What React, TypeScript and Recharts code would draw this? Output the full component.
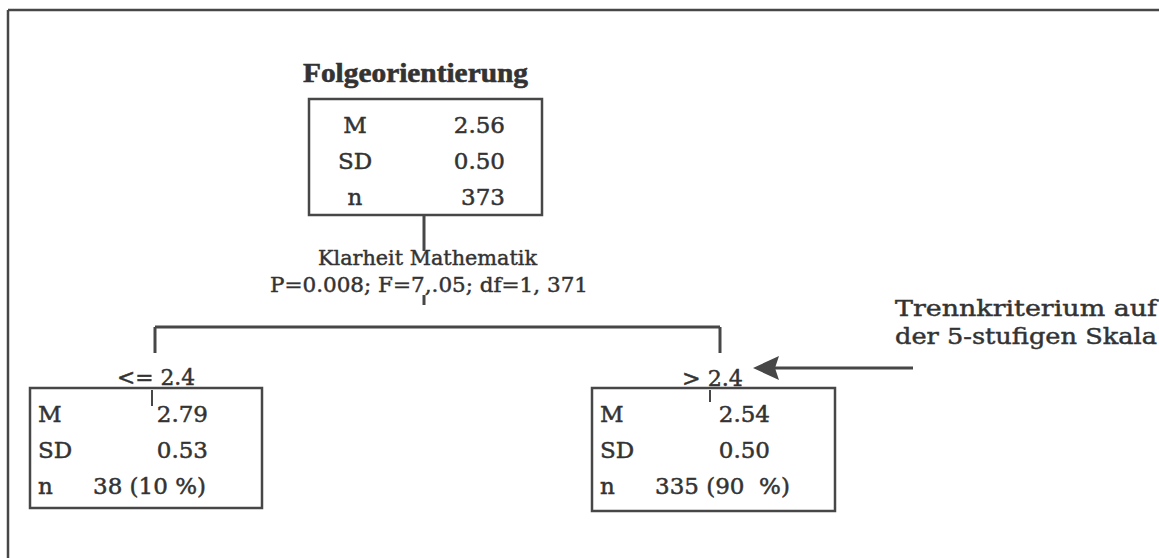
import { ScatterChart, Scatter, XAxis, YAxis, ReferenceLine } from "recharts";

const W = 1159;
const H = 558;

// tree content
const statNames = ["M", "SD", "n"];
const rootStats = ["2.56", "0.50", "373"];
const lowStats = ["2.79", "0.53", "38 (10 %)"];
const highStats = ["2.54", "0.50", "335 (90  %)"];
const targetName = "Folgeorientierung";
const splitName = "Klarheit Mathematik";
const splitTest = "P=0.008; F=7,.05; df=1, 371";
const splitRules = ["<= 2.4", "> 2.4"];
const noteLines = ["Trennkriterium auf", "der 5-stufigen Skala"];

const INK = "#333333";
const LINE = "#474747";
const BOX_FONT = "'DejaVu Serif', serif";

// layout in page pixels (domain is 1:1 with the plot)
const nodeLayout = [
  { kind: "root", x0: 309, y0: 99, x1: 542, y1: 215 },
  { kind: "leaf", x0: 30, y0: 388, x1: 262, y1: 508 },
  { kind: "leaf", x0: 592, y0: 388, x1: 835, y1: 511 },
];
const nodeStats = [rootStats, lowStats, highStats];

const nodes = nodeLayout.map((b, i) => ({
  x: (b.x0 + b.x1) / 2,
  y: (b.y0 + b.y1) / 2,
  w: b.x1 - b.x0,
  h: b.y1 - b.y0,
  kind: b.kind,
  stats: nodeStats[i],
}));

const labelTexts = [targetName, splitName, splitTest, splitRules[0], splitRules[1], noteLines[0], noteLines[1]];
const labelLayout = [
  { x: 303, y: 82, w: 225, size: 28, bold: true, font: "'Liberation Serif', serif" },
  { x: 318, y: 265, w: 219, size: 21, bold: false, font: BOX_FONT },
  { x: 270, y: 292, w: 318, size: 21, bold: false, font: BOX_FONT },
  { x: 117, y: 385, w: 78, size: 22, bold: false, font: BOX_FONT },
  { x: 682, y: 386, w: 61, size: 22, bold: false, font: BOX_FONT },
  { x: 895, y: 316, w: 262, size: 22, bold: false, font: BOX_FONT },
  { x: 895, y: 344, w: 262, size: 22, bold: false, font: BOX_FONT },
];
const labels = labelTexts.map((t, i) => ({ ...labelLayout[i], text: t }));

// connectors
const tree = { stemX: 424, barY: 327, branchX: [155, 720], childTop: 353 };
const arrowTip = { x: 753, y: 368 };
const arrowTail = 913;

const segments: { a: [number, number]; b: [number, number]; w?: number }[] = [
  { a: [tree.stemX, nodeLayout[0].y1], b: [tree.stemX, 251] },
  { a: [tree.stemX, 295], b: [tree.stemX, 305] },
  { a: [tree.branchX[0], tree.barY], b: [tree.branchX[1], tree.barY] },
  { a: [tree.branchX[0], tree.barY], b: [tree.branchX[0], tree.childTop] },
  { a: [tree.branchX[1], tree.barY], b: [tree.branchX[1], tree.childTop] },
  { a: [152, 390], b: [152, 406], w: 2 },
  { a: [710, 390], b: [710, 402], w: 2 },
  { a: [arrowTip.x + 22, arrowTip.y], b: [arrowTail, arrowTip.y], w: 3 },
  { a: [8, 10], b: [W, 10], w: 2.5 },
  { a: [8, 10], b: [8, H], w: 2.5 },
];

function NodeBox(props: any) {
  const { cx, cy, payload } = props;
  const left = cx - payload.w / 2;
  const top = cy - payload.h / 2;
  const root = payload.kind === "root";
  return (
    <g>
      <rect x={left} y={top} width={payload.w} height={payload.h} fill="none" stroke={LINE} strokeWidth={2.5} />
      {statNames.map((name, i) => {
        const by = top + 34 + i * 36;
        const val = payload.stats[i];
        let valueEl;
        if (root) {
          valueEl = (
            <text x={left + 196} y={by} textAnchor="end">
              {val}
            </text>
          );
        } else if (i < 2) {
          valueEl = (
            <text x={left + 178} y={by} textAnchor="end">
              {val}
            </text>
          );
        } else {
          valueEl = (
            <text x={left + 63} y={by} textAnchor="start" style={{ whiteSpace: "pre" }}>
              {val}
            </text>
          );
        }
        return (
          <g key={name} fontFamily={BOX_FONT} fontSize={23} fill={INK} stroke={INK} strokeWidth={0.5}>
            <text x={root ? left + 46 : left + 8} y={by} textAnchor={root ? "middle" : "start"}>
              {name}
            </text>
            {valueEl}
          </g>
        );
      })}
    </g>
  );
}

function LabelText(props: any) {
  const { cx, cy, payload } = props;
  return (
    <text
      x={cx}
      y={cy}
      fontFamily={payload.font}
      fontSize={payload.size}
      fontWeight={payload.bold ? 700 : 400}
      fill={INK}
      stroke={INK}
      strokeWidth={payload.bold ? 0.6 : 0.45}
      textLength={payload.w}
      lengthAdjust="spacingAndGlyphs"
    >
      {payload.text}
    </text>
  );
}

function ArrowHead(props: any) {
  const { cx, cy } = props;
  return <polygon points={`${cx},${cy} ${cx + 26},${cy - 12} ${cx + 22},${cy} ${cx + 26},${cy + 12}`} fill={LINE} />;
}

export default function App() {
  return (
    <div style={{ position: "absolute", left: 0, top: 0, width: W, height: H, background: "#fff" }}>
      <ScatterChart width={W} height={H} margin={{ top: 0, right: 0, bottom: 0, left: 0 }}>
        <XAxis type="number" dataKey="x" domain={[0, W]} hide allowDataOverflow />
        <YAxis type="number" dataKey="y" domain={[0, H]} reversed hide allowDataOverflow />
        {segments.map((s, i) => (
          <ReferenceLine
            key={i}
            segment={[
              { x: s.a[0], y: s.a[1] },
              { x: s.b[0], y: s.b[1] },
            ]}
            stroke={LINE}
            strokeWidth={s.w ?? 3}
            ifOverflow="visible"
          />
        ))}
        <Scatter data={nodes} shape={NodeBox} isAnimationActive={false} />
        <Scatter data={labels} shape={LabelText} isAnimationActive={false} />
        <Scatter data={[arrowTip]} shape={ArrowHead} isAnimationActive={false} />
      </ScatterChart>
    </div>
  );
}
